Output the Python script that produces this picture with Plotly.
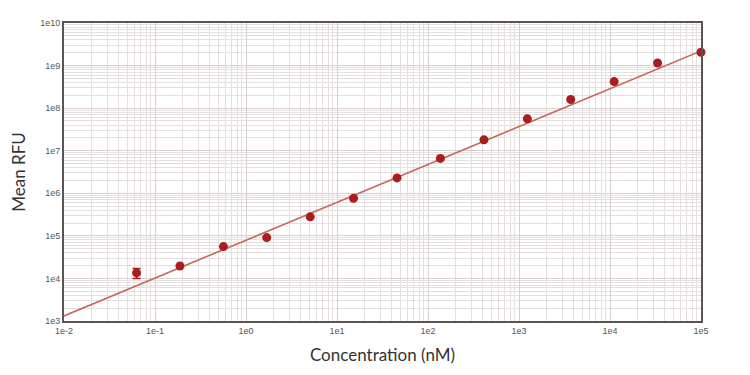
import plotly.graph_objects as go
import numpy as np

# Data
concentration_nM = [0.0627, 0.188, 0.565, 1.69, 5.08, 15.2, 45.7, 137, 412, 1235, 3704, 11111, 33333, 100000]
mean_rfu = [1.35e4, 1.96e4, 5.6e4, 9.1e4, 2.8e5, 7.6e5, 2.3e6, 6.6e6, 1.8e7, 5.6e7, 1.6e8, 4.2e8, 1.15e9, 2.05e9]
rfu_err = [3.5e3, 0, 0, 0, 0, 0, 0, 0, 0, 0, 0, 0, 0, 0]

# Fitted line (log10 y = intercept + slope * log10 x)
fit_slope = 0.889
fit_intercept = 4.898
fit_x = [1e-2, 1e5]

x_tickvals = [1e-2, 1e-1, 1e0, 1e1, 1e2, 1e3, 1e4, 1e5]
x_ticktext = ["1e-2", "1e-1", "1e0", "1e1", "1e2", "1e3", "1e4", "1e5"]
y_tickvals = [1e3, 1e4, 1e5, 1e6, 1e7, 1e8, 1e9, 1e10]
y_ticktext = ["1e3", "1e4", "1e5", "1e6", "1e7", "1e8", "1e9", "1e10"]

fit_y = [10 ** (fit_intercept + fit_slope * np.log10(v)) for v in fit_x]

fig = go.Figure()
fig.add_trace(go.Scatter(
    x=fit_x, y=fit_y, mode="lines",
    line=dict(color="#c8675c", width=1.6),
    hoverinfo="skip", showlegend=False,
))
fig.add_trace(go.Scatter(
    x=concentration_nM, y=mean_rfu, mode="markers",
    marker=dict(color="#a81e1e", size=9),
    error_y=dict(type="data", array=rfu_err, color="#a81e1e", thickness=1.5, width=4),
    showlegend=False, cliponaxis=False,
))

axis_common = dict(
    type="log",
    showline=True, linecolor="#5a5555", linewidth=2, mirror=True,
    showgrid=True, gridcolor="#d8d0d0", gridwidth=1,
    ticks="", zeroline=False,
    tickfont=dict(family="Liberation Sans, Arial, sans-serif", size=9, color="#555555"),
    minor=dict(dtick="D1", showgrid=True, gridcolor="#e6dfdf", gridwidth=1),
)

fig.update_layout(
    width=750, height=375,
    margin=dict(l=46, r=57, t=10, b=62),
    paper_bgcolor="white", plot_bgcolor="white",
    xaxis=dict(
        **axis_common,
        range=[-2, 5],
        tickvals=x_tickvals, ticktext=x_ticktext,
        title=dict(text="Concentration (nM)", font=dict(family="Lato, Open Sans, sans-serif", size=17, color="#333333"), standoff=14),
    ),
    yaxis=dict(
        **axis_common,
        range=[3, 10],
        tickvals=y_tickvals, ticktext=y_ticktext,
        title=dict(text="Mean RFU", font=dict(family="Lato, Open Sans, sans-serif", size=17, color="#333333"), standoff=10),
    ),
)

fig.write_html("out.html")
